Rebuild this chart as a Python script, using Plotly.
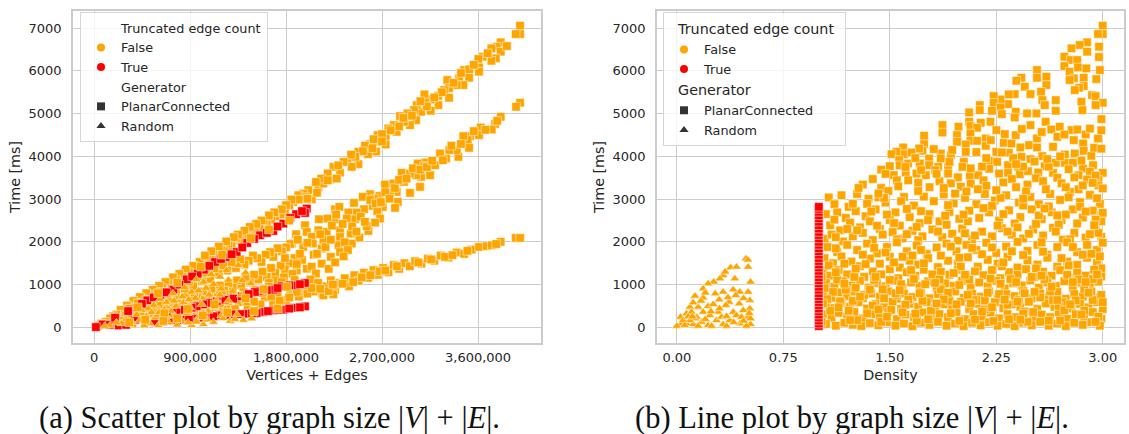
import plotly.graph_objects as go

# Panel (a): (vertices + edges in thousands, time in ms)
a_top_band = [(3994,7056),(3994,6860),(3953,6860),(3812,6667),(3775,6565),(3725,6526),(3812,6448),(3766,6292),(3725,6237),(3644,6331),(3603,6276),(3609,6081),(3609,5980),(3469,6019),(3516,6035),(3516,5839),(3422,5824),(3312,5785),(3462,5668),(3400,5668),(3328,5597),(3281,5550),(3228,5418),(3328,5371),(3228,5199),(3156,5332),(3097,5449),(3103,5262),(3156,5067),(3066,5043),(3025,5199),(3000,5082),(2937,5004),(2869,4942),(3019,4848),(2962,4731),(2906,4809),(2812,4731),(2759,4653),(2837,4575),(2734,4434),(2659,4497),(2587,4286),(2659,4341),(2734,4278),(2644,4114),(2569,4052),(2478,4106),(2375,3872),(2478,3818),(2416,3755),(2306,3622),(2244,3755),(2212,3458),(2275,3482),(2103,3271),(2150,3365),(2009,3209),(2041,2998),(1962,3131),(1869,2935),(1916,3092),
(1830,2850),(1790,2700),(1750,2640),(1700,2600),(1660,2520),(1620,2400),(1590,2470),(1550,2300),(1510,2240),(1480,2310),(1440,2110),(1400,2180),(1370,2030),(1330,2080),(1290,1900),(1260,1960),(1220,1780),(1190,1850),(1150,1660),(1120,1730),(1090,1590),(1060,1640),(1020,1470),(990,1530),(960,1380),(930,1440),(890,1290),(860,1350),(830,1180),(800,1250),(770,1110),(740,1170),(700,1010),(670,1060),(640,920),(610,970),(580,830),(550,880),(520,760),(490,800),(460,660),(430,710),(400,570),(370,620),(340,470),(310,510),(280,380),(250,410),(210,300),(180,260),(150,210),(110,130),(70,90),(40,40),
(3870,6580),(3690,6410),(3560,6140),(3440,5950),(3370,5720),(3260,5500),(3190,5380),(3120,5170),(3060,5290),(2980,4950),(2900,4900),(2860,4700),(2780,4610),(2700,4520),(2620,4400),(2540,4250),(2700,4350),(2610,4190),(2520,4120),(2450,3990),(2410,4040),(2340,3870),(2290,3790),(2190,3600),(2130,3480),(2080,3400),(2190,3440),(2090,3150),(1980,3050),(1920,2990),(2000,3010),(1850,2990),(1800,2860),(1760,2760),(1690,2690),(1640,2620),(1570,2500),(1520,2420),(1460,2350),(1410,2260),(1350,2170),(1310,2110),(1240,2010),(1170,1890),(1100,1780),(1040,1680)]
a_mid_band = [(3994,5254),(3956,5160),(3812,4926),(3759,4754),(3728,4629),(3625,4676),(3609,4497),(3525,4473),(3503,4380),(3462,4473),(3516,4200),(3416,3989),(3400,4146),(3331,4146),(3300,3950),(3244,4067),(3197,3794),(3103,3857),(3034,3833),(3094,3771),(3150,3560),(3066,3521),(3019,3560),(2884,3615),(2962,3599),(2906,3404),(3056,3287),(2962,3146),(2837,3170),(2775,3146),(2728,3341),(2806,3365),(2847,2935),(2822,2795),(2706,2818),(2675,3076),(2587,3115),(2519,3053),(2625,3014),(2612,2842),(2437,2912),(2531,2764),(2259,2764),(2300,2818),(2656,2717),(2681,2545),(2634,2451),(2462,2686),(2384,2686),(2447,2530),(2369,2545),(2259,2530),(2187,2545),(2109,2530),(1978,2389),(2572,2256),(2556,2366),(2487,2100),(2406,2194),(2306,2272),(2181,2233),(2103,2272),(1994,2233),(1894,2178),(2150,2038),(2306,2116),(2041,2116),(2416,1960),(2291,1921),(2134,1843),(1962,1882),(1853,1960),(2306,1764),(2134,1491),(1994,1374),(2220,1650),(2060,1700),(1950,1580),
(1840,1950),(1800,1870),(1760,1780),(1720,1850),(1680,1650),(1650,1760),(1610,1700),(1570,1530),(1530,1620),(1490,1680),(1450,1560),(1410,1470),(1370,1590),(1330,1390),(1290,1520),(1250,1330),(1210,1450),(1170,1250),(1130,1380),(1090,1130),(1050,1270),(1010,1080),(970,1190),(930,960),(890,1070),(850,880),(810,990),(770,800),(730,910),(690,720),(650,830),(610,640),(570,730),(530,560),(490,640),(450,480),(410,560),(370,390),(330,440),(290,300),
(1880,1620),(1830,1500),(1790,1360),(1750,1440),(1700,1270),(1660,1390),(1620,1180),(1580,1300),(1540,1120),(1500,1230),(1460,1050),(1420,1180),(1380,990),(1340,1100),(1300,930),(1260,1040),(1220,860),(1180,980),(1140,800),(1100,900),(1060,730),(1020,840),(980,680),(940,770),(900,620),(860,710),(820,560),(780,650),(740,510),(700,590),(660,450),(620,520),(580,400),(540,470),(500,350),(460,410),(420,290),(380,340),(340,240),(300,270),
(2050,1960),(2090,1720),(2120,2180),(2170,1880),(2220,2050),(2230,2380),(2270,2640),(2330,2420),(2350,1990),(2380,1810),(2420,2360),(2460,2240),(2500,2590),(2540,2470),(2590,2980),(2640,2900),(2690,2930),(2730,3160),(2770,3010),(2820,3260),(2860,3450),(2930,3480),(2990,3720),(3060,3690),(3120,3750),(3170,3900),(3270,3910),(3350,4250),(3440,4290),(3560,4590),(3670,4620),(3780,4830),(1910,2050),(1930,1720),(2000,1980),(2040,1420),(2080,1260),(2200,1370),(2260,1520),(2340,1660),(1900,1330),(1860,1250),(1780,1170),(1700,1100),(1640,1040),(1900,1480),(1790,1620)]
a_low_band = [(1960,860),(1920,720),(1880,1110),(1840,900),(1800,640),(1760,1060),(1720,780),(1680,590),(1640,950),(1600,700),(1560,540),(1520,880),(1480,640),(1440,480),(1400,820),(1360,590),(1320,430),(1280,770),(1240,540),(1200,390),(1160,700),(1120,480),(1080,340),(1040,640),(1000,430),(960,300),(920,570),(880,380),(840,250),(800,480),(760,330),(720,200),(680,400),(640,280),(600,160),(560,330),(520,230),(480,120),(440,270),(400,190),(360,90),(320,210),(280,150),(240,70),(200,130),(160,60),(120,80),
(1990,970),(2030,1120),(2060,840),(2100,1040),(2140,790),(2180,960),(2220,1100),(2260,880),(2300,1040),(2350,1150),(2390,960),(2440,1220),(2480,1090),(2530,1280),(2570,1160),(2620,1340),(2660,1230),(2710,1390),(2760,1290),(2810,1460),(2860,1370),(2910,1500),(2960,1430),(3010,1550),(3070,1490),(3130,1610),(3190,1560),(3250,1680),(3320,1630),(3400,1750),(3470,1720),(3540,1820),(3609,1882),(3680,1900),(3728,1921),(3812,2000),(3953,2092),(3994,2092),(2150,749),(2244,773),
(2000,790),(2040,920),(2120,900),(2200,850),(2240,1000),(2330,1020),(2430,1060),(2510,1170),(2590,1220),(2680,1310),(2730,1330),(2840,1430),(3040,1520),(3160,1590),(3290,1650),(3360,1690),(3500,1790),(3770,1950),(1900,830),(1830,700),(1740,620),(1660,720),(1580,810),(1500,600),(1420,650),(1340,740),(1260,620),(1180,560),(1100,620),(1020,520),(940,450),(860,480),(780,400)]
a_false_over = [(1640,2290),(1470,2090),(1200,1700),(1000,1420),(780,1050),(600,800),(410,470),(1830,2500),(1810,950),(1590,890),(1420,680),(1130,540),(880,430),(660,330),(1720,440),(1500,380),(1250,350),(1020,280),(780,210),(650,150),(480,180),(330,120)]
a_random = [(1353,1452),(1243,1335),(1181,1179),(1100,1240),(1025,1062),(960,1120),(915,827),(850,930),(790,700),(740,790),(680,590),(620,660),(560,520),(509,437),(447,398),(400,300),(353,125),(300,190),(260,90),(210,110),(150,40),(100,30),(1478,203),(1400,170),(1340,300),(1275,148),(1230,430),(1197,281),(1150,640),(1119,125),(1070,380),(1025,70),(980,240),(915,47),(870,330),(820,170),(744,281),(700,110),(660,420),(603,47),(570,230),(520,90),(470,40),(430,170),(1300,850),(1260,620),(1190,900),(1130,470),(1080,760),(1010,540),(950,680),(900,460),(840,590),(770,500),(720,380),(640,330),(590,290),(540,350),(490,260),(1380,760),(1430,560),(1470,1030),(1420,1280),(1390,1100),
(1320,190),(1210,210),(1060,180),(960,130),(880,110),(780,60),(650,160),(610,350),(680,250),(750,620),(830,720),(890,650),(980,860),(1050,920),(1120,1010),(1180,760),(1260,1110)]
a_truncated = [(1978,492),(1878,460),(1775,414),(1681,398),(1587,359),(1525,335),(1431,320),(1306,304),(1181,281),(1065,242),(994,226),(931,203),(844,187),(728,164),(572,125),(384,180),(228,47),(81,70),(18,8),
(1930,470),(1830,440),(1730,410),(1630,380),(1480,330),(1370,310),(1240,290),(1120,260),(1030,230),(890,195),(780,170),(650,140),(480,150),(300,60),(150,60),
(1978,1038),(1884,983),(1831,983),(1759,960),(1681,882),(1556,851),(1509,827),(1384,726),(1306,671),(1228,648),(1087,570),(1025,538),(962,492),(915,460),(790,359),(681,320),(619,296),
(1930,1010),(1720,920),(1620,870),(1450,780),(1150,610),(850,410),(730,340),
(1994,2779),(1978,2677),(1894,2646),(1775,2428),(1681,2256),(1556,2154),(1437,1975),(1337,1764),(1234,1647),(1134,1530),(1031,1350),(972,1257),(869,1124),(744,882),(619,749),(500,632),(400,460),(197,226),
(1950,2720),(1840,2560),(1720,2360),(1620,2210),(1500,2070),(1390,1870),(1290,1710),(1190,1600),(1080,1440),(920,1190),(800,1000),(680,820),(560,700),(450,550),(320,380)]

# Panel (b): (density, time in ms)
b_false_upper = [(3.00,7057),(3.00,6862),(2.967,6862),(2.89,6667),(2.838,6604),(2.78,6526),(2.89,6448),(2.974,6565),(2.974,6323),(2.73,6331),(2.775,6253),(2.82,6253),(2.73,6113),(2.767,5980),(2.826,6081),(2.885,6058),(2.98,6019),(2.955,5808),(2.866,5839),(2.796,5824),(2.767,5785),(2.866,5644),(2.833,5605),(2.803,5550),(2.925,5433),(2.95,5410),(3.0,5254),(2.95,5199),(2.85,5277),(2.857,5082),(2.669,5316),(2.669,5067),(2.603,5863),(2.603,5668),(2.537,6019),(2.537,5839),(2.427,5839),(2.392,5769),(2.451,5629),(2.491,5457),(2.38,5457),(2.338,5449),(2.566,5511),(2.575,5316),(2.592,5199),(2.533,5004),(2.467,5004),(2.387,5043),(2.333,5223),(2.28,5332),(2.232,5410),(2.232,5254),(2.28,5145),(2.22,5067),(2.289,4988),(2.38,4910),(2.209,4809),(2.134,5199),(2.134,5082),(2.059,5028),(2.059,4809),(2.141,4785),(1.871,4731),(1.871,4559),(1.984,4692),(1.974,4497),(1.974,4341),(2.068,4708),(2.115,4668),(2.068,4536),(2.068,4364),(2.115,4364),(1.742,4481),(1.742,4286),(1.73,4130),(1.707,4185),(1.594,4208),(1.6,4052),(1.547,4106),(1.512,4052),(1.653,4091),(1.859,4067),(1.93,4028),(1.777,3950),(1.859,3950),(2.035,4278),(2.035,4106),(2.176,4419),(2.176,4247),(2.251,4614),(2.211,4380),(2.303,4317),(2.357,4302),(2.251,4106),(2.338,4083),(2.427,3989),(2.481,4263),(2.537,4419),(2.537,4208),(2.387,4497),(2.491,4731),(2.598,4809),(2.638,4629),(2.697,4692),(2.681,4458),(2.78,4614),(2.822,4629),(2.88,4512),(2.967,4419),(2.991,4871),(2.796,4380),(2.862,4302),(2.866,4130),(2.65,4224),(2.733,4044),(2.803,4067),(2.92,4013),(2.575,4005),(2.491,3935),(2.669,3849),(2.733,3849),(2.592,3771),(2.404,3755),(2.333,3794),(2.204,3896),(2.256,3872),(2.021,3872),(2.012,3755),(1.911,3755),(1.84,3755),(1.777,3794),(1.711,3833),(1.629,3833),(1.566,3912),(1.5,3771),(1.528,3560),(1.613,3622),(1.688,3599),(1.754,3560),(1.911,3599),(2.064,3544),(2.122,3560),(2.27,3599),(2.333,3615),(2.416,3583),(2.474,3654),(2.545,3622),(2.65,3615),(2.861,3716),(3.0,3615),(2.932,3794),
(2.31,4520),(2.43,4640),(2.57,4570),(2.73,4510),(2.91,4650),(2.99,4610),(2.94,4200),(2.42,4210),(2.29,4090),(2.11,4100),(1.94,4150),(1.81,4170),(1.68,3960),(1.57,3790),(1.44,3690),(2.18,3960),(2.37,3960),(2.52,3880),(2.70,4000),(2.85,3900),(2.99,4180),(1.92,3870),(1.72,3680),(1.55,3440),(2.07,3720),(2.20,3710),(2.44,3760),(2.62,3760),(2.79,3850),(2.91,3640),(1.82,3680),(1.98,3510),(2.16,3440),(2.36,3470),(2.53,3490),(2.68,3500),(2.83,3560),(2.97,3450)]
b_false_middle = [(1.07,3040),(1.16,3090),(1.27,3120),(1.31,3340),(1.38,3470),(1.44,3260),(1.11,2880),(1.21,2820),(1.35,3010),(1.42,3040),(1.49,3190),(1.56,3300),(1.63,3440),(1.70,3380),(1.78,3280),(1.85,3420),(1.93,3370),(2.00,3290),(2.07,3360),(2.18,3310),(2.30,3390),(2.39,3280),(2.47,3340),(2.58,3420),(2.71,3370),(2.80,3510),(2.89,3460),(2.97,3320),
(1.05,2650),(1.13,2690),(1.19,2560),(1.26,2720),(1.33,2600),(1.40,2760),(1.47,2920),(1.54,2690),(1.60,3050),(1.67,2850),(1.74,3060),(1.81,2950),(1.88,3110),(1.95,2900),(2.03,3030),(2.11,2880),(2.17,3120),(2.24,2970),(2.32,3090),(2.41,2920),(2.49,3050),(2.55,2880),(2.63,3120),(2.70,2980),(2.77,3170),(2.84,2930),(2.91,3100),(2.98,2890),(3.00,3250),
(1.08,2390),(1.15,2270),(1.22,2450),(1.29,2340),(1.36,2480),(1.43,2300),(1.50,2510),(1.57,2380),(1.64,2580),(1.71,2440),(1.78,2650),(1.85,2480),(1.92,2700),(1.99,2540),(2.06,2730),(2.13,2560),(2.20,2690),(2.27,2500),(2.34,2740),(2.42,2580),(2.50,2760),(2.57,2530),(2.64,2690),(2.71,2510),(2.79,2760),(2.86,2570),(2.93,2730),(2.99,2620),(2.99,2480),
(1.04,2070),(1.09,2170),(1.17,2010),(1.24,2130),(1.31,2210),(1.38,2040),(1.45,2170),(1.52,2230),(1.59,2080),(1.66,2260),(1.73,2130),(1.80,2290),(1.87,2110),(1.94,2190),(2.01,2310),(2.08,2060),(2.15,2240),(2.22,2130),(2.29,2320),(2.36,2170),(2.44,2080),(2.51,2290),(2.58,2150),(2.65,2330),(2.72,2050),(2.80,2210),(2.88,2100),(2.95,2280),(2.99,2120),
(1.28,3260),(1.47,3590),(1.61,3750),(1.83,3590),(2.15,3760),(2.39,3820),(2.61,3940),(2.76,3700),(2.95,3550),(1.34,2890),(1.58,2950),(1.72,2720),(1.96,3130),(2.12,3230),(2.28,3030),(2.46,3180),(2.62,2830),(2.74,3280),(2.93,3380),(1.53,2440),(1.69,2350),(1.89,2610),(2.05,2480),(2.22,2840),(2.38,2430),(2.55,2620),(2.69,2400),(2.84,2820),(2.97,2210),
(1.12,2110),(1.27,2270),(1.41,2380),(1.62,2180),(1.84,2240),(1.98,2030),(2.10,2150),(2.33,2240),(2.48,2190),(2.67,2240),(2.77,2060),(2.91,2180),(3.00,2680),(2.96,3020),(2.83,3230),
(1.48,2640),(1.62,2770),(1.77,2510),(1.91,2860),(2.02,2640),(2.16,2790),(2.30,2650),(2.44,2850),(2.59,2780),(2.74,2640),(2.88,2710),(2.95,2520),(1.55,2060),(1.70,2040),(1.90,2400),(2.03,2200),(2.26,2380),(2.40,2340),(2.53,2420),(2.68,2620),(2.82,2430),(2.94,2390),(1.20,2300),(1.37,2710),(1.46,3030),(1.70,3190),(1.88,3260),(2.04,3180),(2.25,3210),(2.44,3010),(2.60,3230),(2.76,3040),(2.86,3320),(1.11,2520),(1.24,2890),(1.42,3130)]
b_false_lower = [(1.06,1880),(1.13,1760),(1.20,1930),(1.27,1810),(1.34,1960),(1.41,1730),(1.48,1880),(1.55,1990),(1.62,1780),(1.69,1920),(1.76,1720),(1.83,1870),(1.90,1960),(1.97,1780),(2.04,1930),(2.11,1810),(2.18,1980),(2.25,1740),(2.32,1890),(2.40,2000),(2.47,1790),(2.54,1930),(2.61,1700),(2.68,1880),(2.75,1990),(2.82,1760),(2.89,1930),(2.96,1810),(3.00,1980),
(1.04,1620),(1.10,1500),(1.16,1660),(1.23,1540),(1.29,1430),(1.36,1610),(1.43,1490),(1.50,1650),(1.57,1400),(1.64,1560),(1.70,1470),(1.77,1620),(1.84,1410),(1.91,1560),(1.98,1490),(2.05,1640),(2.12,1420),(2.19,1580),(2.26,1490),(2.33,1650),(2.40,1400),(2.47,1570),(2.54,1470),(2.61,1630),(2.68,1420),(2.75,1540),(2.82,1460),(2.89,1630),(2.96,1510),(2.99,1380),
(1.03,1330),(1.08,1210),(1.14,1340),(1.20,1240),(1.26,1370),(1.32,1180),(1.38,1310),(1.44,1240),(1.50,1360),(1.56,1150),(1.62,1290),(1.68,1210),(1.74,1350),(1.80,1160),(1.86,1300),(1.92,1230),(1.98,1350),(2.04,1180),(2.10,1310),(2.16,1220),(2.22,1340),(2.28,1150),(2.34,1290),(2.40,1230),(2.46,1360),(2.52,1180),(2.58,1300),(2.64,1210),(2.70,1340),(2.76,1160),(2.82,1280),(2.88,1210),(2.94,1350),(2.99,1190),
(1.05,1040),(1.11,950),(1.17,1080),(1.23,980),(1.29,1090),(1.35,930),(1.41,1040),(1.47,960),(1.53,1090),(1.59,920),(1.65,1050),(1.71,970),(1.77,1080),(1.83,930),(1.89,1030),(1.95,970),(2.01,1090),(2.07,940),(2.13,1050),(2.19,960),(2.25,1090),(2.31,910),(2.37,1030),(2.43,980),(2.49,1100),(2.55,930),(2.61,1050),(2.67,970),(2.73,1080),(2.79,920),(2.85,1040),(2.91,960),(2.97,1070),
(1.03,790),(1.09,690),(1.14,820),(1.20,730),(1.25,840),(1.31,680),(1.37,790),(1.43,720),(1.49,840),(1.55,670),(1.60,790),(1.66,710),(1.72,830),(1.78,680),(1.84,780),(1.90,730),(1.96,840),(2.02,690),(2.08,790),(2.14,720),(2.20,840),(2.26,670),(2.32,780),(2.38,730),(2.44,850),(2.50,680),(2.56,790),(2.62,710),(2.68,830),(2.74,670),(2.80,780),(2.86,720),(2.92,840),(2.98,690),
(1.05,540),(1.11,450),(1.16,570),(1.22,480),(1.28,590),(1.34,440),(1.40,550),(1.46,470),(1.52,600),(1.58,430),(1.64,550),(1.70,480),(1.76,590),(1.82,440),(1.88,540),(1.94,470),(2.00,600),(2.06,430),(2.12,550),(2.18,490),(2.24,590),(2.30,450),(2.36,540),(2.42,480),(2.48,600),(2.54,430),(2.60,560),(2.66,480),(2.72,590),(2.78,440),(2.84,550),(2.90,470),(2.96,590),(3.00,430),
(1.03,300),(1.09,220),(1.14,340),(1.20,250),(1.25,360),(1.31,210),(1.37,310),(1.43,240),(1.49,360),(1.55,190),(1.61,300),(1.67,240),(1.73,350),(1.79,200),(1.85,310),(1.91,240),(1.97,360),(2.03,190),(2.09,310),(2.15,250),(2.21,350),(2.27,210),(2.33,310),(2.39,240),(2.45,370),(2.51,190),(2.57,300),(2.63,240),(2.69,350),(2.75,200),(2.81,310),(2.87,240),(2.93,360),(2.99,200),
(1.05,80),(1.12,40),(1.18,110),(1.24,60),(1.30,30),(1.36,100),(1.42,50),(1.48,120),(1.54,40),(1.60,90),(1.66,30),(1.72,110),(1.78,60),(1.84,130),(1.90,40),(1.96,90),(2.02,30),(2.08,110),(2.14,50),(2.20,120),(2.26,40),(2.32,80),(2.38,30),(2.44,110),(2.50,50),(2.56,130),(2.62,40),(2.68,90),(2.74,30),(2.80,110),(2.86,60),(2.92,120),(2.98,40),
(1.07,1450),(1.13,1120),(1.19,880),(1.24,620),(1.27,170),(1.33,1480),(1.39,1110),(1.45,890),(1.51,410),(1.53,1520),(1.58,1010),(1.63,650),(1.69,160),(1.74,1500),(1.80,1240),(1.86,890),(1.92,620),(1.99,150),(2.00,1420),(2.06,1120),(2.11,640),(2.17,420),(2.23,150),(2.29,1430),(2.35,1130),(2.41,640),(2.47,130),(2.53,1380),(2.59,1120),(2.65,640),(2.70,160),(2.76,1450),(2.83,1120),(2.87,900),(2.93,640),(2.97,250),
(1.10,830),(1.15,610),(1.21,390),(1.26,930),(1.32,760),(1.38,510),(1.44,130),(1.50,1110),(1.55,760),(1.61,530),(1.67,1130),(1.73,620),(1.79,390),(1.85,1120),(1.91,810),(1.97,540),(2.03,1230),(2.09,640),(2.15,370),(2.21,1140),(2.27,780),(2.33,530),(2.39,1060),(2.45,800),(2.51,360),(2.57,1210),(2.63,840),(2.69,500),(2.75,1230),(2.81,630),(2.87,390),(2.93,1130),(2.99,760),
(1.06,660),(1.08,390),(1.12,1290),(1.18,1020),(1.22,170),(1.29,720),(1.34,330),(1.40,1180),(1.46,680),(1.48,250),(1.54,800),(1.59,350),(1.65,1340),(1.71,800),(1.77,190),(1.82,1040),(1.88,650),(1.93,330),(1.99,990),(2.05,760),(2.10,180),(2.17,630),(2.22,470),(2.28,1020),(2.34,190),(2.40,600),(2.44,320),(2.50,1180),(2.56,700),(2.62,160),(2.68,640),(2.73,400),(2.79,1060),(2.85,300),(2.90,810),(2.96,1240),(3.00,590),
(1.04,920),(1.14,470),(1.25,1180),(1.36,880),(1.42,420),(1.57,870),(1.68,320),(1.75,1010),(1.83,560),(1.95,1270),(2.07,560),(2.19,810),(2.31,650),(2.42,180),(2.52,830),(2.64,950),(2.77,540),(2.88,1060),(2.95,130),(1.02,130),(1.02,1180),(1.03,560),
(1.18,1490),(1.31,1700),(1.47,1750),(1.59,1650),(1.72,1810),(1.86,1680),(1.99,1630),(2.15,1710),(2.30,1520),(2.44,1690),(2.58,1770),(2.71,1620),(2.86,1700),(2.98,1660),(1.12,1850),(1.39,1860),(1.66,1680),(1.93,1890),(2.08,1860),(2.22,1870),(2.36,1780),(2.57,1990),(2.79,1880),(2.92,1720)]
b_random = [(0.486,1608),(0.502,1413),(0.519,1062),(0.378,1398),(0.42,1413),(0.326,1218),(0.303,1140),(0.408,1140),(0.26,1062),(0.22,1023),(0.185,906),(0.127,734),(0.397,883),(0.444,828),(0.502,828),(0.298,648),(0.326,828),(0.415,750),(0.368,594),(0.439,555),(0.514,633),(0.22,492),(0.256,539),(0.185,695),(0.15,477),(0.092,477),(0.514,438),(0.467,399),(0.397,360),(0.345,516),(0.291,360),(0.232,281),(0.185,360),(0.139,242),(0.068,321),(0.026,242),(0.033,86),(0.0,30),(0.068,86),(0.115,70),(0.174,125),(0.22,47),(0.279,164),(0.326,70),(0.373,164),(0.42,281),(0.444,86),(0.502,242),(0.519,70),(0.49,32),(0.35,30),(0.244,30),(0.15,30),(0.103,360),(0.127,203),(0.519,203),(0.455,242),(0.314,242),(0.092,164),(0.044,164),
(0.50,1580),(0.34,1300),(0.20,810),(0.115,580),(0.08,250),(0.17,620),(0.27,790),(0.36,700),(0.47,680),(0.51,330),(0.40,120),(0.30,440),(0.20,190),(0.11,250),(0.055,50),(0.24,370),(0.35,260),(0.47,150)]
b_truncated = [(1.0,30),(1.0,90),(1.0,160),(1.0,230),(1.0,300),(1.0,375),(1.0,440),(1.0,520),(1.0,590),(1.0,660),(1.0,730),(1.0,800),(1.0,880),(1.0,950),(1.0,1030),(1.0,1100),(1.0,1170),(1.0,1250),(1.0,1320),(1.0,1400),(1.0,1470),(1.0,1550),(1.0,1620),(1.0,1700),(1.0,1780),(1.0,1850),(1.0,1930),(1.0,2000),(1.0,2080),(1.0,2160),(1.0,2230),(1.0,2310),(1.0,2390),(1.0,2470),(1.0,2550),(1.0,2620),(1.0,2700),(1.0,2770),(1.0,2820)]

x_ticks_a = [0, 900000, 1800000, 2700000, 3600000]
x_labels_a = ["0", "900,000", "1,800,000", "2,700,000", "3,600,000"]
x_ticks_b = [0, 0.75, 1.5, 2.25, 3.0]
x_labels_b = ["0.00", "0.75", "1.50", "2.25", "3.00"]
y_ticks = [0, 1000, 2000, 3000, 4000, 5000, 6000, 7000]

ORANGE, RED, DARK, GRID, TEXT = "#ffa500", "#ff0000", "#333333", "#cccccc", "#262626"
W, H = 1129, 434
EDGE = dict(color="rgba(255,255,255,0.65)", width=0.8)


def unzip(pts, scale=1):
    return [p[0] * scale for p in pts], [p[1] for p in pts]


fig = go.Figure()


def marks(pts, color, symbol, ax, scale=1, size=8.5):
    x, y = unzip(pts, scale)
    fig.add_trace(go.Scatter(x=x, y=y, mode="markers", showlegend=False, xaxis=ax[0], yaxis=ax[1],
                             marker=dict(color=color, symbol=symbol, size=size, line=EDGE)))


A = ("x", "y")
B = ("x2", "y2")
marks(a_top_band + a_mid_band + a_low_band, ORANGE, "square", A, 1000)
marks(a_truncated, RED, "square", A, 1000)
marks(a_random, ORANGE, "triangle-up", A, 1000)
marks(a_false_over, ORANGE, "square", A, 1000)
marks(b_false_upper + b_false_middle + b_false_lower, ORANGE, "square", B)
marks(b_random, ORANGE, "triangle-up", B)
marks(b_truncated, RED, "square", B)


def key(name, legend, color=None, symbol="circle", group=None, gtitle=None):
    m = dict(color=color or "rgba(0,0,0,0)", symbol=symbol, size=8, line=dict(width=0))
    kw = {}
    if group:
        kw["legendgroup"] = group
    if gtitle:
        kw["legendgrouptitle"] = dict(text=gtitle, font=dict(size=14.3, color=TEXT, family="DejaVu Sans"))
    fig.add_trace(go.Scatter(x=[None], y=[None], mode="markers", name=name, legend=legend, marker=m, **kw))


key("Truncated edge count", "legend")
key("False", "legend", ORANGE)
key("True", "legend", RED)
key("Generator", "legend")
key("PlanarConnected", "legend", DARK, "square")
key("Random", "legend", DARK, "triangle-up")
key("False", "legend2", ORANGE, group="t", gtitle="&nbsp;&nbsp;Truncated edge count")
key("True", "legend2", RED, group="t")
key("PlanarConnected", "legend2", DARK, "square", group="g", gtitle="&nbsp;&nbsp;Generator")
key("Random", "legend2", DARK, "triangle-up", group="g")

axis = dict(showgrid=True, gridcolor=GRID, gridwidth=1.4, zeroline=False, showline=True, linecolor=GRID,
            linewidth=1.6, mirror=True, ticks="", tickfont=dict(size=13, color=TEXT),
            title_font=dict(size=14.3, color=TEXT))
xaxis_common = dict(axis, ticklabelstandoff=2)
yaxis_common = dict(axis, ticklabelstandoff=7)
legend_common = dict(bgcolor="rgba(255,255,255,0.8)", bordercolor="rgba(204,204,204,0.8)", borderwidth=1,
                     font=dict(size=12.8, color=TEXT), xanchor="left", yanchor="top", itemsizing="trace",
                     tracegroupgap=0, itemclick=False, itemdoubleclick=False)
caption_font = dict(family="Liberation Serif", size=30.5, color="#111111")

fig.update_layout(
    width=W, height=H, margin=dict(l=0, r=0, t=0, b=0), paper_bgcolor="white", plot_bgcolor="white",
    font=dict(family="DejaVu Sans", color=TEXT),
    xaxis=dict(xaxis_common, domain=[73 / W, 541 / W], range=[-197000, 4190000], tickvals=x_ticks_a, ticktext=x_labels_a,
               title=dict(text="Vertices + Edges", standoff=6), anchor="y"),
    yaxis=dict(yaxis_common, domain=[1 - 343 / H, 1 - 11 / H], range=[-365, 7400], tickvals=y_ticks,
               title=dict(text="Time [ms]", standoff=5), anchor="x"),
    xaxis2=dict(xaxis_common, domain=[657 / W, 1124 / W], range=[-0.14, 3.15], tickvals=x_ticks_b, ticktext=x_labels_b,
                title=dict(text="Density", standoff=6), anchor="y2"),
    yaxis2=dict(yaxis_common, domain=[1 - 343 / H, 1 - 11 / H], range=[-365, 7400], tickvals=y_ticks,
                title=dict(text="Time [ms]", standoff=5), anchor="x2"),
    legend=dict(legend_common, x=80 / W, y=1 - 12 / H),
    legend2=dict(legend_common, x=663 / W, y=1 - 12 / H),
    annotations=[
        dict(text="(a) Scatter plot by graph size |<i>V</i>| + |<i>E</i>|.", x=269 / W, y=1 - 418 / H,
             xref="paper", yref="paper", xanchor="center", yanchor="middle", showarrow=False, font=caption_font),
        dict(text="(b) Line plot by graph size |<i>V</i>| + |<i>E</i>|.", x=852 / W, y=1 - 418 / H,
             xref="paper", yref="paper", xanchor="center", yanchor="middle", showarrow=False, font=caption_font),
    ],
)
fig.write_html("out.html", config=dict(displayModeBar=False),
               post_script="document.body.style.margin='0';document.body.style.overflow='hidden';")
